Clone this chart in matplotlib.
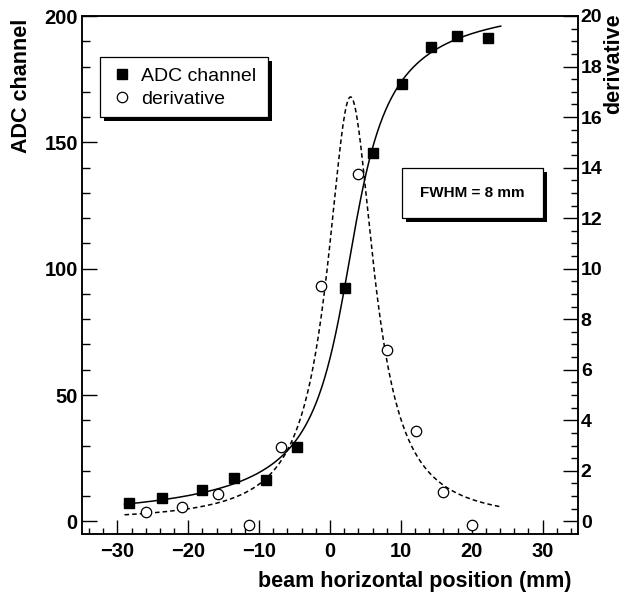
import matplotlib
matplotlib.use('Agg')
import matplotlib.pyplot as plt
import matplotlib.patches as patches
import numpy as np

plt.rcParams['font.family'] = ['Liberation Sans', 'DejaVu Sans']

# measured points: ADC channel vs beam position
adc_x = [-28.4, -23.7, -18.0, -13.6, -9.1, -4.7, 2.1, 6.1, 10.1, 14.2, 17.9, 22.3]
adc_y = [7.4, 9.3, 12.6, 17.1, 16.4, 29.3, 92.2, 145.7, 173.1, 187.8, 192.0, 191.1]

# derivative points (right axis), at midpoints between ADC points
der_x = [-26.0, -20.9, -15.8, -11.4, -6.95, -1.3, 4.0, 8.0, 12.2, 16.0, 20.1]
der_y = [0.39, 0.55, 1.08, -0.13, 2.93, 9.32, 13.74, 6.80, 3.56, 1.18, -0.16]

# fit parameters
step_base, step_amp, step_x0, step_width = 103.5, 67.2, 2.75, 4.2
step_range = (-29.0, 24.1)
peak_height, peak_x0, peak_fwhm = 16.8, 2.9, 8.0
peak_range = (-29.0, 24.0)

fig = plt.figure(figsize=(6.29, 6.0), dpi=100)
ax = fig.add_axes([82 / 629, 66 / 600, 496 / 629, 518 / 600])
ax2 = ax.twinx()

xs = np.linspace(*step_range, 400)
ax.plot(xs, step_base + step_amp * np.arctan((xs - step_x0) / step_width),
        color='black', lw=1.1, zorder=2)
ax.plot(adc_x, adc_y, ls='none', marker='s', ms=7.5, color='black', zorder=3)

xd = np.linspace(*peak_range, 400)
gam = peak_fwhm / 2
ax2.plot(xd, peak_height / (1 + ((xd - peak_x0) / gam) ** 2),
         color='black', lw=1.1, ls=(0, (3, 2)), zorder=2)
ax2.plot(der_x, der_y, ls='none', marker='o', ms=7.5, mfc='white',
         mec='black', mew=0.9, zorder=3)

ax.set_xlim(-35, 35)
ax.set_ylim(-5, 200)
ax2.set_ylim(-0.5, 20)

ax.set_xticks(np.arange(-30, 31, 10))
ax.set_xticks(np.arange(-34, 35, 2), minor=True)
ax.set_yticks(np.arange(0, 201, 50))
ax.set_yticks(np.arange(0, 201, 10), minor=True)
ax2.set_yticks(np.arange(0, 21, 2))
ax2.set_yticks(np.arange(0, 20.1, 0.5), minor=True)

ax.tick_params(axis='x', which='both', direction='in', top=False, pad=6,
               labelsize=14.5, width=1.0)
ax.tick_params(axis='x', which='major', length=10)
ax.tick_params(axis='x', which='minor', length=4.5)
ax.tick_params(axis='y', which='both', direction='in', right=False, pad=3,
               labelsize=14.5, width=1.0)
ax.tick_params(axis='y', which='major', length=11)
ax.tick_params(axis='y', which='minor', length=6)
ax2.tick_params(axis='y', which='both', direction='in', pad=2,
                labelsize=14, width=1.0)
ax2.tick_params(axis='y', which='major', length=11)
ax2.tick_params(axis='y', which='minor', length=5)
for lab in ax.get_xticklabels() + ax.get_yticklabels() + ax2.get_yticklabels():
    lab.set_fontweight('bold')

for a in (ax, ax2):
    for sp in a.spines.values():
        sp.set_linewidth(1.1)

# axis titles
fig.text(22 / 629, 1 - 19 / 600, 'ADC channel', rotation=90, ha='center', va='top',
         fontsize=15.5, fontweight='bold')
fig.text(614 / 629, 1 - 13 / 600, 'derivative', rotation=90, ha='center', va='top',
         fontsize=15.5, fontweight='bold')
fig.text(572 / 629, 1 - 582 / 600, 'beam horizontal position (mm)', ha='right',
         va='center', fontsize=15.5, fontweight='bold')

# boxes with black shadow
sx, sy = 4 / 496, 4 / 518


def shadow_box(x0, y0, w, h):
    ax2.add_patch(patches.Rectangle((x0 + sx, y0 - sy), w, h, transform=ax2.transAxes,
                                    facecolor='black', edgecolor='black', lw=0,
                                    zorder=5, clip_on=False))
    ax2.add_patch(patches.Rectangle((x0, y0), w, h, transform=ax2.transAxes,
                                    facecolor='white', edgecolor='black', lw=0.9,
                                    zorder=5.1, clip_on=False))


shadow_box(0.0363, 0.805, 0.3387, 0.1158)
shadow_box(0.645, 0.610, 0.284, 0.0966)

h1, = ax.plot([], [], ls='none', marker='s', ms=7.5, color='black')
h2, = ax.plot([], [], ls='none', marker='o', ms=7.5, mfc='white', mec='black', mew=0.9)
leg = ax2.legend([h1, h2], ['ADC channel', 'derivative'], loc='center left',
                 bbox_to_anchor=(0.061, 0.862), frameon=False, fontsize=14,
                 handlelength=1.0, handletextpad=0.5, labelspacing=0.3,
                 borderpad=0, borderaxespad=0)
leg.set_zorder(6)

ax2.text(0.787, 0.658, 'FWHM = 8 mm', transform=ax2.transAxes, ha='center',
         va='center', fontsize=11, fontweight='bold', zorder=6)

fig.savefig('out.png', dpi=100)
